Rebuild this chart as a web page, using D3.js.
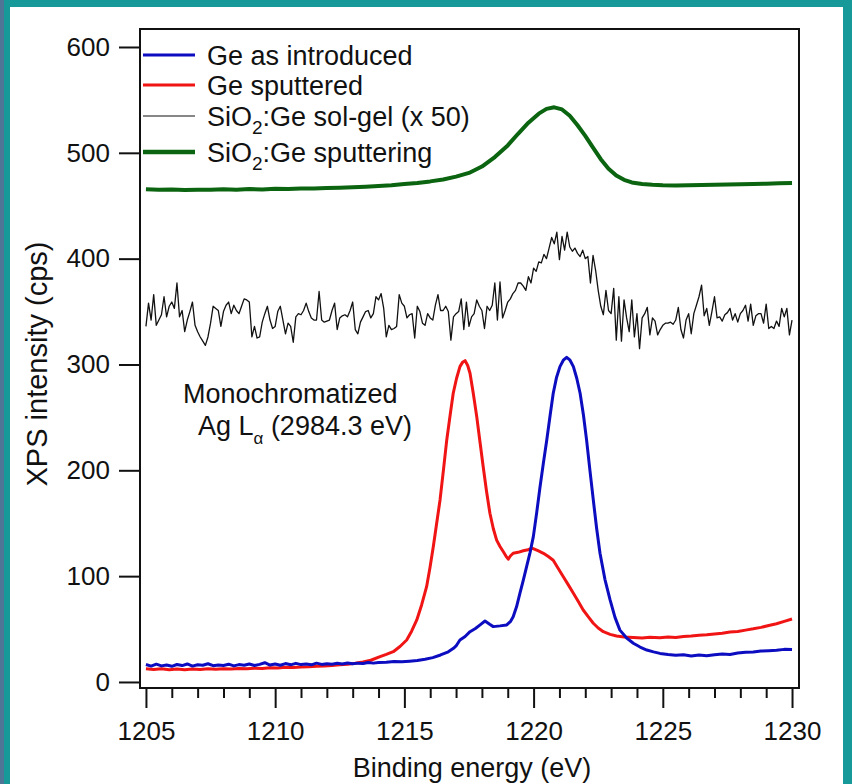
<!DOCTYPE html>
<html><head><meta charset="utf-8">
<script src="https://cdn.jsdelivr.net/npm/d3@7"></script>
<style>
html,body{margin:0;padding:0;background:#17999a;}
svg{display:block;}
text{font-family:"Liberation Sans",Arial,sans-serif;fill:#111;}
</style></head><body>
<svg id="c" width="852" height="784"></svg>
<script>
// ---------------- data ----------------
const xTicks = [1205, 1210, 1215, 1220, 1225, 1230];
const yTicks = [0, 100, 200, 300, 400, 500, 600];

const geIntroE = [1205,1205.2,1205.4,1205.6,1205.8,1206,1206.2,1206.4,1206.6,1206.8,1207,1207.2,1207.4,1207.6,1207.8,1208,1208.2,1208.4,1208.6,1208.8,1209,1209.2,1209.4,1209.6,1209.8,1210,1210.2,1210.4,1210.6,1210.8,1211,1211.2,1211.4,1211.6,1211.8,1212,1212.2,1212.4,1212.6,1212.8,1213,1213.2,1213.4,1213.6,1213.8,1214,1214.3,1214.6,1214.9,1215.2,1215.5,1215.8,1216.1,1216.4,1216.7,1216.9,1217,1217.15,1217.35,1217.54,1217.75,1217.93,1218.12,1218.3,1218.44,1218.7,1218.96,1219.1,1219.21,1219.34,1219.47,1219.6,1219.73,1219.86,1219.99,1220.12,1220.25,1220.38,1220.51,1220.64,1220.76,1220.89,1221.02,1221.15,1221.28,1221.41,1221.54,1221.67,1221.8,1221.93,1222.05,1222.18,1222.31,1222.44,1222.57,1222.76,1222.96,1223.15,1223.34,1223.6,1223.86,1224.12,1224.38,1224.64,1224.89,1225.2,1225.5,1225.8,1226.1,1226.4,1226.7,1227,1227.3,1227.6,1227.9,1228.2,1228.5,1228.8,1229.1,1229.4,1229.7,1230];
const geIntroI = [16.5,15,16.8,15.2,16,14.8,16.5,15.5,17,15,16.2,15.8,17.2,15.4,16,15.6,16.8,15.2,16.4,15.8,17,15.6,16.6,18.2,16,17,15.8,17.4,16.2,17.6,16.4,17,16.2,17.8,16.6,17.2,16.8,17.6,17,18,17.2,17.8,17.4,18.4,17.8,18.3,18.6,19.4,19,19.6,20.2,21.5,23,25.5,28.5,31.8,34,39.7,43,47.5,50.5,53.9,57.6,54.5,52.3,53,53.9,57,61.7,71,83.8,96,109,122,137.3,160,184.5,207,228.7,252,272.8,288,298,304,306.8,304,298,287,272.8,252,228.7,200,172,145,121.6,97,77.5,61,49,41.5,36.6,33,30.2,28.4,27,26,25.2,25.8,24.6,25.4,24.8,25.8,26.4,26,27.4,28,28.4,29.2,29.6,30,30.8,30.6];

const geSputE = [1205,1205.3,1205.6,1205.9,1206.2,1206.5,1206.8,1207.1,1207.4,1207.7,1208,1208.3,1208.6,1208.9,1209.2,1209.5,1209.8,1210.1,1210.4,1210.7,1211,1211.3,1211.6,1211.9,1212.2,1212.5,1212.8,1213.1,1213.4,1213.7,1214.06,1214.3,1214.57,1214.83,1215.09,1215.28,1215.48,1215.67,1215.86,1215.99,1216.12,1216.25,1216.38,1216.51,1216.64,1216.77,1216.89,1217.02,1217.15,1217.25,1217.35,1217.45,1217.54,1217.67,1217.8,1217.93,1218.05,1218.18,1218.31,1218.44,1218.57,1218.7,1218.83,1218.93,1219.02,1219.1,1219.21,1219.4,1219.6,1219.78,1219.96,1220.17,1220.38,1220.57,1220.76,1220.96,1221.15,1221.35,1221.54,1221.73,1221.92,1222.12,1222.31,1222.5,1222.7,1222.96,1223.21,1223.5,1223.86,1224.2,1224.5,1224.89,1225.2,1225.5,1225.8,1226.1,1226.4,1226.7,1227,1227.3,1227.6,1227.9,1228.2,1228.5,1228.8,1229.1,1229.4,1229.7,1230];
const geSputI = [12.5,11.8,12.4,11.6,12.2,11.5,12.3,11.8,12.4,12,12.6,12.2,12.8,12.4,13,12.8,13.4,13.2,13.8,13.6,14.2,14.4,14.8,15.2,15.6,16.2,16.8,17.6,18.8,20.5,23.9,26,28.6,33.5,39.7,48,58.6,73,90,108,128,150,172,200,228.7,252,272.8,287,298,302,303.6,299,291.7,272,250.7,226,203.4,180,159.4,145,134,128,123,119,116,119,121.6,122.5,124,125,126.3,124,121.6,118.5,115,107,99.5,91.5,83.8,76,68,61.5,55.5,51,47.5,45,43.5,42.5,42,41.5,42.2,41.8,42.4,42,43,43.4,44.2,44.6,45.4,46,47.2,47.6,49,50.2,51.6,53.4,55,57.2,59.5];

const solgelStart = 1205, solgelStep = 0.1;
const solgelI = [336,358,342,366,337,342,347,364,345,355,359,353,377,345,351,331,342,350,359,337,
331,326,322,318,326,339,355,353,351,336,350,356,359,348,356,351,348,355,362,361,
359,326,336,325,326,340,348,355,342,334,336,350,355,342,329,339,336,321,345,348,
347,351,358,350,344,342,342,369,342,340,341,342,351,358,333,344,346,347,345,351,
359,333,329,340,345,350,351,344,348,364,361,367,353,326,337,333,334,336,366,358,
355,344,347,348,325,355,350,339,337,348,344,342,356,366,351,351,355,350,323,345,
348,350,362,333,359,336,345,348,361,355,351,334,355,351,356,377,342,378,344,351,
359,362,367,370,377,377,374,370,383,377,391,388,397,396,404,400,410,420,414,425,
399,421,408,425,411,407,410,405,402,408,400,402,377,403,389,370,355,347,370,351,
348,372,323,364,322,361,344,331,361,326,348,315,344,348,354,328,344,341,328,333,
337,339,339,340,338,342,354,333,325,342,348,329,348,356,364,375,346,353,337,350,
364,344,345,341,347,349,353,342,348,340,348,351,356,341,357,337,346,348,348,339,
357,334,336,334,341,336,353,345,353,328,342];

const sioSputE = [1205,1205.5,1206,1206.5,1207,1207.5,1208,1208.5,1209,1209.5,1210,1210.5,1211,1211.5,1212,1212.5,1213,1213.5,1214,1214.5,1215,1215.5,1216,1216.5,1217,1217.5,1218,1218.5,1219,1219.4,1219.8,1220.2,1220.5,1220.8,1221.1,1221.4,1221.7,1222,1222.3,1222.6,1222.9,1223.2,1223.5,1223.8,1224.2,1224.6,1225,1225.5,1226,1226.5,1227,1227.5,1228,1228.5,1229,1229.5,1230];
const sioSputI = [465.5,465,465.4,464.8,465.2,465,465.6,465.2,465.8,465.4,466,465.8,466.4,466.2,466.8,467,467.4,468,468.6,469.4,470.5,471.5,473,474.8,477.5,481,487,496,507,518,528.5,537,541.5,543,541,535,526,516,505,494,485,478.5,474.5,472,470.5,469.8,469.4,469.2,469.4,469.6,469.8,470,470.3,470.6,470.8,471.2,471.4];

// ---------------- layout ----------------
const svg = d3.select("#c");
const L = 140, R = 799, T = 29, B = 688;
const x = d3.scaleLinear().domain([1204.77, 1230.27]).range([L, R]);
const y = d3.scaleLinear().domain([-5.7, 617]).range([B, T]);

// page frame
svg.append("rect").attr("x",0).attr("y",0).attr("width",852).attr("height",784).attr("fill","#17999a");
svg.append("rect").attr("x",0).attr("y",0).attr("width",4).attr("height",784).attr("fill","#4e7596");
svg.append("rect").attr("x",10).attr("y",7).attr("width",833).attr("height",777).attr("fill","#ffffff");

svg.append("defs").append("clipPath").attr("id","clip")
  .append("rect").attr("x",L).attr("y",T).attr("width",R-L).attr("height",B-T);

const g = svg.append("g").attr("clip-path","url(#clip)");
const line = d3.line().x(d=>x(d[0])).y(d=>y(d[1]));

const zipped = (E,I)=>E.map((e,i)=>[e,I[i]]);
const solgel = solgelI.map((v,i)=>[solgelStart + i*solgelStep, v]);

g.append("path").datum(zipped(sioSputE,sioSputI)).attr("d",line)
  .attr("fill","none").attr("stroke","#0b640f").attr("stroke-width",4).attr("stroke-linejoin","round");
g.append("path").datum(solgel).attr("d",line)
  .attr("fill","none").attr("stroke","#111").attr("stroke-width",1.3).attr("stroke-linejoin","round");
g.append("path").datum(zipped(geSputE,geSputI)).attr("d",line)
  .attr("fill","none").attr("stroke","#f01414").attr("stroke-width",3).attr("stroke-linejoin","round");
g.append("path").datum(zipped(geIntroE,geIntroI)).attr("d",line)
  .attr("fill","none").attr("stroke","#0c0cc0").attr("stroke-width",3).attr("stroke-linejoin","round");

// frame
svg.append("rect").attr("x",L).attr("y",T).attr("width",R-L).attr("height",B-T)
  .attr("fill","none").attr("stroke","#111").attr("stroke-width",2);

// y axis
const yAxis = d3.axisLeft(y).tickValues(yTicks).tickSize(21).tickPadding(9).tickFormat(d3.format("d"));
const ya = svg.append("g").attr("transform",`translate(${L},0)`).call(yAxis);
ya.select(".domain").remove();
ya.selectAll("line").attr("stroke","#111").attr("stroke-width",2);
ya.selectAll("text").style("font-size","26px").style("font-family","Liberation Sans, Arial, sans-serif").attr("fill","#111");

// x axis: major + minor
const minor = d3.range(1205,1231,1).filter(v=>v%5!==0);
const xMinor = d3.axisBottom(x).tickValues(minor).tickSize(10).tickFormat("");
const xm = svg.append("g").attr("transform",`translate(0,${B})`).call(xMinor);
xm.select(".domain").remove();
xm.selectAll("line").attr("stroke","#111").attr("stroke-width",2);
const xAxis = d3.axisBottom(x).tickValues(xTicks).tickSize(20).tickPadding(14).tickFormat(d3.format("d"));
const xa = svg.append("g").attr("transform",`translate(0,${B})`).call(xAxis);
xa.select(".domain").remove();
xa.selectAll("line").attr("stroke","#111").attr("stroke-width",2);
xa.selectAll("text").style("font-size","26px").style("font-family","Liberation Sans, Arial, sans-serif").attr("fill","#111");

// axis titles
svg.append("text").attr("x",472).attr("y",777).attr("text-anchor","middle")
  .style("font-size","27px").text("Binding energy (eV)");
svg.append("text").attr("transform","translate(47,364) rotate(-90)").attr("text-anchor","middle")
  .style("font-size","29px").text("XPS intensity (cps)");

// legend
const legend = [
  {name:"Ge as introduced", color:"#0c0cc0", w:3, y:55, sub:null},
  {name:"Ge sputtered", color:"#f01414", w:3, y:85, sub:null},
  {name:"SiO|2|:Ge sol-gel (x 50)", color:"#111", w:1.2, y:116, sub:true},
  {name:"SiO|2|:Ge sputtering", color:"#0b640f", w:4.5, y:152, sub:true}
];
legend.forEach(d=>{
  svg.append("line").attr("x1",143).attr("x2",195).attr("y1",d.y).attr("y2",d.y)
    .attr("stroke",d.color).attr("stroke-width",d.w);
  const t = svg.append("text").attr("x",207).attr("y",d.y+9.5).style("font-size","27px");
  if(d.sub){
    const p = d.name.split("|");
    t.append("tspan").text(p[0]);
    t.append("tspan").attr("dy",8).style("font-size","19px").text(p[1]);
    t.append("tspan").attr("dy",-8).text(p[2]);
  } else t.text(d.name);
});

// annotation
svg.append("text").attr("x",183).attr("y",403).style("font-size","27px").text("Monochromatized");
const ann = svg.append("text").attr("x",198).attr("y",435).style("font-size","27px");
ann.append("tspan").text("Ag L");
ann.append("tspan").attr("dy",9).style("font-size","17px").text("α");
ann.append("tspan").attr("dy",-9).text(" (2984.3 eV)");
</script></body></html>
